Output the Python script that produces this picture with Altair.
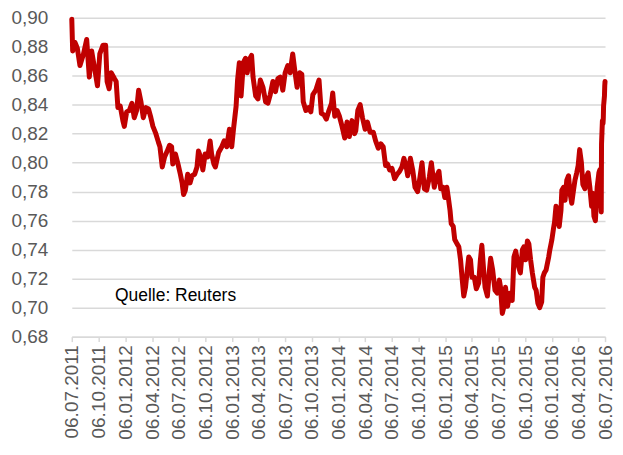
import altair as alt
import pandas as pd

# EUR/GBP, days counted from 06.07.2011
days_after_start = [
    0, 3, 11, 19, 28, 40, 51, 60, 68, 79, 88, 96, 107, 116, 121, 128, 135, 146, 152, 158,
    166, 175, 180, 188, 197, 206, 214, 222, 229, 237, 245, 254, 263, 271, 278, 288, 297, 302,
    310, 318, 327, 335, 342, 346, 355, 364, 372, 378, 383, 389, 397, 405, 412, 421, 429, 434,
    443, 449, 457, 466, 474, 479, 487,
    492, 503, 514, 522, 531, 540, 548, 554, 563, 568, 574, 580, 588, 595, 601, 608, 616, 621,
    630, 638, 646, 655, 664, 672, 680, 689, 698, 706, 714, 723, 731, 740, 748, 757, 765, 772,
    781, 788, 793, 802, 811, 819, 826, 836, 847, 855, 864, 872, 881, 890, 894, 901, 909, 917,
    926, 935, 943, 951, 960, 969,
    973, 980, 988, 996, 1005, 1013, 1022, 1033, 1041, 1050, 1059, 1067, 1075, 1082, 1089, 1097,
    1106, 1115, 1123, 1131, 1138, 1146, 1151, 1160, 1168, 1176, 1185, 1193, 1200, 1208, 1216,
    1225, 1232, 1242, 1249, 1258, 1264, 1272, 1278, 1285, 1290, 1296, 1300, 1307, 1312, 1320,
    1326, 1332, 1337, 1343, 1349, 1354, 1360, 1366, 1371,
    1379, 1386, 1394, 1400, 1405, 1411, 1416, 1424, 1431, 1435, 1442, 1450, 1458, 1465, 1469,
    1475, 1481, 1486, 1493, 1501, 1509, 1515, 1521, 1526, 1531, 1537, 1544, 1549, 1555, 1561,
    1566, 1572, 1578, 1586, 1591, 1597, 1603, 1610, 1614, 1619, 1625, 1634, 1638, 1645, 1650,
    1654, 1659, 1664, 1670, 1676, 1679, 1685, 1690, 1696, 1702, 1707, 1713, 1719, 1724, 1730,
    1735, 1740, 1746, 1751, 1758, 1763, 1769, 1775, 1781, 1785, 1789, 1794, 1800, 1806, 1809,
    1812, 1814, 1815, 1818, 1819, 1820, 1821, 1822, 1825, 1826, 1827,
]

rate = [
    0.899, 0.877, 0.883, 0.879, 0.867, 0.875, 0.885, 0.859, 0.877, 0.864, 0.853, 0.875, 0.881, 0.881, 0.856, 0.851, 0.862, 0.858, 0.856, 0.838,
    0.839, 0.829, 0.825, 0.835, 0.836, 0.841, 0.831, 0.836, 0.850, 0.842, 0.831, 0.838, 0.837, 0.831, 0.825, 0.820, 0.814, 0.811,
    0.797, 0.804, 0.808, 0.812, 0.811, 0.799, 0.806, 0.799, 0.792, 0.786, 0.778, 0.781, 0.792, 0.786, 0.791, 0.792, 0.797, 0.808,
    0.803, 0.795, 0.806, 0.804, 0.815, 0.806, 0.799,
    0.797, 0.807, 0.811, 0.815, 0.811, 0.823, 0.811, 0.823, 0.839, 0.857, 0.869, 0.846, 0.869, 0.872, 0.862, 0.871, 0.874, 0.859,
    0.846, 0.844, 0.857, 0.852, 0.842, 0.841, 0.847, 0.856, 0.849, 0.858, 0.859, 0.850, 0.862, 0.867, 0.862, 0.875, 0.862, 0.852,
    0.862, 0.861, 0.842, 0.836, 0.838, 0.835, 0.847, 0.850, 0.857, 0.834, 0.833, 0.830, 0.836, 0.841, 0.848, 0.832, 0.836, 0.832,
    0.825, 0.817, 0.828, 0.818, 0.829, 0.820,
    0.822, 0.836, 0.840, 0.831, 0.823, 0.828, 0.821, 0.821, 0.815, 0.810, 0.813, 0.811, 0.798, 0.799, 0.795, 0.796,
    0.789, 0.792, 0.794, 0.797, 0.803, 0.797, 0.791, 0.803, 0.795, 0.783, 0.780, 0.790, 0.800, 0.782, 0.781,
    0.790, 0.800, 0.783, 0.790, 0.794, 0.782, 0.783, 0.776, 0.783, 0.776, 0.767, 0.758, 0.756, 0.747, 0.744,
    0.742, 0.733, 0.721, 0.708, 0.714, 0.724, 0.735, 0.733, 0.721,
    0.721, 0.713, 0.717, 0.733, 0.743, 0.726, 0.714, 0.708, 0.726, 0.734, 0.726, 0.712, 0.710, 0.719, 0.714,
    0.696, 0.701, 0.714, 0.701, 0.710, 0.705, 0.735, 0.739, 0.733, 0.728, 0.724, 0.740, 0.742, 0.733, 0.746,
    0.744, 0.733, 0.724, 0.714, 0.712, 0.703, 0.700, 0.704, 0.721, 0.724, 0.726, 0.735, 0.740, 0.747, 0.754,
    0.759, 0.770, 0.767, 0.756, 0.767, 0.781, 0.783, 0.774, 0.788, 0.791, 0.779, 0.772, 0.781, 0.788, 0.793,
    0.798, 0.809, 0.800, 0.785, 0.782, 0.790, 0.793, 0.783, 0.770, 0.779, 0.763, 0.760, 0.783, 0.793, 0.795,
    0.779, 0.766, 0.813, 0.829, 0.828, 0.827, 0.830, 0.839, 0.846, 0.853, 0.856,
]

tick_dates = [
    "2011-07-06", "2011-10-06", "2012-01-06", "2012-04-06", "2012-07-06", "2012-10-06",
    "2013-01-06", "2013-04-06", "2013-07-06", "2013-10-06", "2014-01-06", "2014-04-06",
    "2014-07-06", "2014-10-06", "2015-01-06", "2015-04-06", "2015-07-06", "2015-10-06",
    "2016-01-06", "2016-04-06", "2016-07-06",
]
y_ticks = [0.68, 0.70, 0.72, 0.74, 0.76, 0.78, 0.80, 0.82, 0.84, 0.86, 0.88, 0.90]

note_text = ["Quelle: Reuters"]
note_day = [148]
note_rate = [0.7045]

start = pd.Timestamp("2011-07-06")
df = pd.DataFrame({
    "date": start + pd.to_timedelta(days_after_start, unit="D"),
    "rate": rate,
})
note_df = pd.DataFrame({
    "date": start + pd.to_timedelta(note_day, unit="D"),
    "rate": note_rate,
    "text": note_text,
})


def dt(s):
    t = pd.Timestamp(s)
    return alt.DateTime(year=t.year, month=t.month, date=t.day)


x_scale = alt.Scale(domain=[dt(tick_dates[0]), dt(tick_dates[-1])], nice=False)
y_scale = alt.Scale(domain=[y_ticks[0], y_ticks[-1]], nice=False, zero=False)

FONT = "Liberation Sans"
GREY = "#595959"

x_axis = alt.Axis(
    values=[dt(s) for s in tick_dates],
    format="%d.%m.%Y",
    labelAngle=-90,
    labelFlush=False,
    labelOverlap=False,
    labelPadding=3,
    labelFont=FONT,
    labelFontSize=19,
    labelColor=GREY,
    grid=False,
    domainColor="#D9D9D9",
    domainWidth=1.5,
    tickColor="#D9D9D9",
    tickWidth=1.5,
    tickSize=5,
    title=None,
)
y_axis = alt.Axis(
    values=y_ticks,
    labelExpr="replace(format(datum.value, '.2f'), '.', ',')",
    labelOverlap=False,
    labelPadding=24,
    labelFont=FONT,
    labelFontSize=19,
    labelColor=GREY,
    grid=True,
    gridColor="#D9D9D9",
    gridWidth=1.5,
    domain=False,
    ticks=False,
    tickSize=0,
    title=None,
)

line = alt.Chart(df).mark_line(
    color="#C00000", strokeWidth=5, strokeJoin="round", strokeCap="round"
).encode(
    x=alt.X("date:T", scale=x_scale, axis=x_axis),
    y=alt.Y("rate:Q", scale=y_scale, axis=y_axis),
)

note = alt.Chart(note_df).mark_text(
    align="left", baseline="alphabetic", font=FONT, fontSize=17.5, color="#000000"
).encode(
    x=alt.X("date:T", scale=x_scale, axis=x_axis),
    y=alt.Y("rate:Q", scale=y_scale, axis=y_axis),
    text="text:N",
)

chart = alt.layer(line, note).properties(
    width=535,
    height=320,
    padding={"left": 3, "top": 0, "right": 0, "bottom": 5},
).configure_view(stroke=None)

chart.save("out.html", embed_options={"renderer": "svg", "actions": False})
